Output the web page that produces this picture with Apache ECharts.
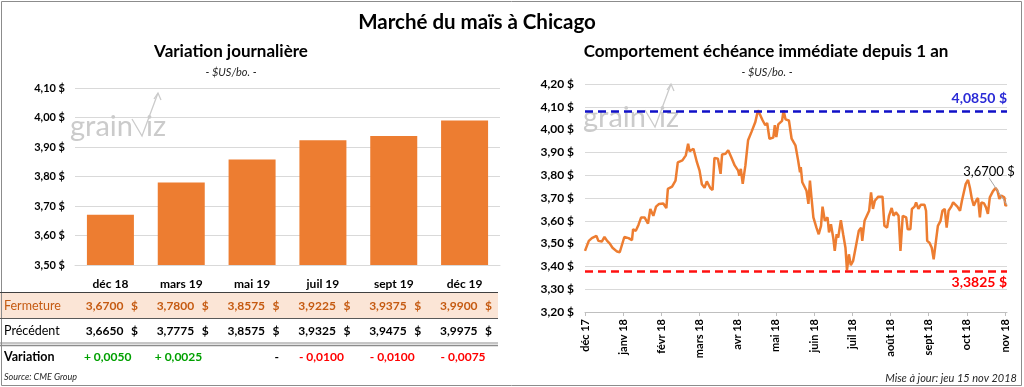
<!DOCTYPE html>
<html><head><meta charset="utf-8">
<script src="https://cdn.jsdelivr.net/npm/echarts@6/dist/echarts.min.js"></script>
<style>html,body{margin:0;padding:0;background:#fff}#c{width:1024px;height:387px}</style>
</head><body><div id="c"></div>
<script>
// ---------- data ----------
const contracts = ['déc 18', 'mars 19', 'mai 19', 'juil 19', 'sept 19', 'déc 19'];
const closePrices = [3.6700, 3.7800, 3.8575, 3.9225, 3.9375, 3.9900];
const previousPrices = [3.6650, 3.7775, 3.8575, 3.9325, 3.9475, 3.9975];
const rowLabels = ['Fermeture', 'Précédent', 'Variation'];

const monthLabels = ['déc 17', 'janv 18', 'févr 18', 'mars 18', 'avr 18', 'mai 18', 'juin 18', 'juil 18', 'août 18', 'sept 18', 'oct 18', 'nov 18'];
// time position of each observation, in months since the start of déc 17
const monthOffset = [
  0.00,0.10,0.18,0.30,0.35,0.44,0.51,0.58,0.65,0.72,
  0.77,0.84,0.91,0.96,1.03,1.14,1.23,1.26,1.33,1.40,
  1.47,1.56,1.65,1.71,1.79,1.86,1.94,2.05,2.13,2.17,
  2.28,2.37,2.43,2.55,2.64,2.70,2.74,2.84,2.93,3.00,
  3.06,3.13,3.19,3.28,3.34,3.39,3.48,3.52,3.55,3.59,
  3.68,3.75,3.83,3.92,4.01,4.04,4.08,4.13,4.20,4.27,
  4.36,4.46,4.53,4.59,4.65,4.72,4.77,4.83,4.88,4.93,
  4.97,5.01,5.06,5.16,5.20,5.25,5.34,5.41,5.51,5.58,
  5.63,5.65,5.69,5.74,5.80,5.85,5.89,5.93,5.98,6.06,
  6.12,6.18,6.22,6.28,6.35,6.39,6.44,6.50,6.54,6.59,
  6.63,6.70,6.76,6.82,6.86,6.91,6.96,7.02,7.07,7.12,
  7.17,7.23,7.26,7.32,7.38,7.44,7.49,7.54,7.59,7.68,
  7.79,7.84,7.91,7.96,8.03,8.08,8.14,8.21,8.26,8.32,
  8.41,8.45,8.52,8.56,8.63,8.67,8.73,8.79,8.89,8.93,
  8.96,9.02,9.08,9.13,9.19,9.24,9.31,9.36,9.42,9.47,
  9.52,9.59,9.64,9.69,9.75,9.82,9.87,9.92,9.97,10.03,
  10.08,10.13,10.18,10.24,10.29,10.34,10.38,10.45,10.50,10.55,
  10.60,10.68,10.75,10.80,10.85,10.90,10.98,11.01,11.05
];
const nearbyPrices = [
  3.468,3.512,3.524,3.534,3.512,3.509,3.529,3.512,3.500,3.482,
  3.488,3.465,3.462,3.470,3.529,3.524,3.515,3.563,3.556,3.582,
  3.615,3.615,3.588,3.652,3.622,3.662,3.674,3.676,3.656,3.740,
  3.750,3.776,3.856,3.865,3.887,3.938,3.905,3.916,3.857,3.820,
  3.760,3.745,3.773,3.744,3.735,3.876,3.872,3.876,3.806,3.891,
  3.894,3.909,3.879,3.843,3.820,3.798,3.828,3.762,3.843,3.953,
  3.990,4.033,4.085,4.063,4.041,4.019,4.029,3.960,3.960,3.965,
  4.019,3.967,4.023,4.038,4.085,4.045,4.040,3.960,3.931,3.865,
  3.813,3.835,3.769,3.776,3.732,3.674,3.776,3.703,3.615,3.570,
  3.541,3.578,3.662,3.600,3.615,3.549,3.585,3.526,3.468,3.541,
  3.526,3.603,3.541,3.482,3.3825,3.453,3.405,3.424,3.468,3.512,
  3.556,3.570,3.512,3.600,3.622,3.644,3.725,3.652,3.688,3.706,
  3.706,3.578,3.570,3.622,3.656,3.622,3.637,3.622,3.468,3.622,
  3.615,3.563,3.563,3.652,3.662,3.681,3.652,3.670,3.670,3.644,
  3.512,3.504,3.482,3.431,3.512,3.578,3.600,3.644,3.652,3.570,
  3.644,3.662,3.681,3.674,3.662,3.644,3.688,3.725,3.762,3.779,
  3.744,3.696,3.666,3.688,3.700,3.615,3.681,3.676,3.659,3.630,
  3.703,3.729,3.744,3.732,3.696,3.710,3.703,3.666,3.670
];
const yearHigh = 4.0850;
const yearLow = 3.3825;
const lastClose = 3.6700;

// ---------- helpers ----------
const FONT = 'Lato, "Open Sans", sans-serif';
const ORANGE = '#ED7D31';
const fmt4 = v => v.toFixed(4).replace('.', ',');
const fmtAxis = v => v.toFixed(2).replace('.', ',') + ' $';

const chart = echarts.init(document.getElementById('c'), null, {renderer: 'canvas'});

const lastIdx = monthOffset.length - 1;
const lineData = monthOffset.map((m, i) => {
  const item = {value: [m, nearbyPrices[i]]};
  if (i === lastIdx) {
    item.label = {
      show: true, position: 'top', fontSize: 13, color: '#000', fontFamily: FONT,
      formatter: () => fmt4(lastClose) + ' $'
    };
    item.labelLine = {show: true, lineStyle: {color: '#a6a6a6', width: 1}};
  }
  return item;
});

chart.setOption({
  animation: false,
  textStyle: {fontFamily: FONT},
  grid: [
    {left: 75, right: 524, top: 88, bottom: 122},
    {left: 585, right: 17, top: 84, bottom: 75}
  ],
  xAxis: [
    {gridIndex: 0, type: 'category', data: contracts,
     axisTick: {show: false},
     axisLine: {lineStyle: {color: '#d9d9d9'}},
     axisLabel: {color: '#000', fontWeight: 'bold', fontSize: 12, margin: 13, fontFamily: FONT}},
    {gridIndex: 1, type: 'value', min: 0, max: 11.05, interval: 1,
     splitLine: {show: false},
     axisLine: {show: true, lineStyle: {color: '#bfbfbf'}},
     axisTick: {show: true, length: 4, lineStyle: {color: '#bfbfbf'}},
     axisLabel: {rotate: 90, fontWeight: 'bold', fontSize: 11, color: '#000', margin: 7, fontFamily: FONT,
       showMaxLabel: false,
       formatter: v => (Math.abs(v - Math.round(v)) < 1e-6 && monthLabels[Math.round(v)]) ? monthLabels[Math.round(v)] : ''}}
  ],
  yAxis: [
    {gridIndex: 0, type: 'value', min: 3.5, max: 4.1, interval: 0.1,
     axisLine: {show: false}, axisTick: {show: false},
     splitLine: {lineStyle: {color: '#d9d9d9'}},
     axisLabel: {formatter: fmtAxis, fontWeight: 'bold', fontSize: 11, color: '#000', margin: 10, fontFamily: FONT}},
    {gridIndex: 1, type: 'value', min: 3.2, max: 4.2, interval: 0.1,
     axisLine: {show: false}, axisTick: {show: false},
     splitLine: {lineStyle: {color: '#d9d9d9'}},
     axisLabel: {formatter: fmtAxis, fontWeight: 'bold', fontSize: 12, color: '#000', margin: 11, fontFamily: FONT}}
  ],
  series: [
    {type: 'bar', xAxisIndex: 0, yAxisIndex: 0, data: closePrices, barWidth: 47,
     itemStyle: {color: ORANGE}},
    {type: 'line', xAxisIndex: 1, yAxisIndex: 1, data: lineData,
     showSymbol: true, showAllSymbol: true, symbol: 'circle', symbolSize: 0.01,
     lineStyle: {color: ORANGE, width: 2.5}, itemStyle: {color: ORANGE},
     labelLayout: function (p) {
       return p.dataIndex === lastIdx ? {dx: -18, dy: -22} : {};
     },
     markLine: {
       silent: true, symbol: 'none',
       data: [
         {yAxis: yearHigh, lineStyle: {color: '#1010c8', type: [8, 5], width: 2.5},
          label: {position: 'insideEndTop', formatter: () => fmt4(yearHigh) + ' $', color: '#2a2ad6',
                  fontWeight: 'bold', fontSize: 14, fontFamily: FONT, distance: [0, 6]}},
         {yAxis: yearLow, lineStyle: {color: '#ff1010', type: [8, 5], width: 2.5},
          label: {position: 'insideEndBottom', formatter: () => fmt4(yearLow) + ' $', color: '#ff0000',
                  fontWeight: 'bold', fontSize: 14, fontFamily: FONT, distance: [0, 5]}}
       ]
     }}
  ]
});

// ---------- texts, table and decoration ----------
function txt(x, y, s, o) {
  return {type: 'text', x: x, y: y, silent: true,
    style: Object.assign({text: s, fontFamily: FONT, fontSize: 12, fill: '#000',
      textAlign: 'left', textVerticalAlign: 'middle'}, o || {})};
}
function hline(x1, x2, y, color, w) {
  return {type: 'line', silent: true, shape: {x1: x1, y1: y, x2: x2, y2: y}, style: {stroke: color, lineWidth: w || 1}};
}
function watermark(x0, base) {
  const c = '#cbcbcb';
  return [
    txt(x0, base, 'grain', {fontSize: 29, fill: c, textVerticalAlign: 'bottom'}),
    {type: 'polyline', silent: true, shape: {points: [[x0 + 62, base - 22], [x0 + 72, base - 5], [x0 + 88, base - 48]]},
     style: {stroke: c, lineWidth: 1.3, fill: null}},
    {type: 'polyline', silent: true, shape: {points: [[x0 + 84, base - 42], [x0 + 88, base - 48], [x0 + 91, base - 41]]},
     style: {stroke: c, lineWidth: 1.3, fill: null}},
    txt(x0 + 76, base, 'iz', {fontSize: 29, fill: c, textVerticalAlign: 'bottom'})
  ];
}

const g = [];
g.push({type: 'rect', silent: true, shape: {x: 1.5, y: 1.5, width: 1020, height: 384},
        style: {fill: null, stroke: '#8c8c8c', lineWidth: 1}});
g.push(...watermark(70, 141));
g.push(...watermark(583, 132));
g.push(txt(477, 22, 'Marché du maïs à Chicago', {fontSize: 20.5, fontWeight: 'bold', textAlign: 'center'}));
g.push(txt(231, 52, 'Variation journalière', {fontSize: 17, fontWeight: 'bold', textAlign: 'center'}));
g.push(txt(231, 72, '- $US/bo. -', {fontSize: 11, fontStyle: 'italic', textAlign: 'center', fill: '#262626'}));
g.push(txt(766, 52, 'Comportement échéance immédiate depuis 1 an', {fontSize: 17, fontWeight: 'bold', textAlign: 'center'}));
g.push(txt(767, 72, '- $US/bo. -', {fontSize: 11, fontStyle: 'italic', textAlign: 'center', fill: '#262626'}));

// table
g.push({type: 'rect', silent: true, shape: {x: 0, y: 292, width: 498, height: 26}, style: {fill: '#fbe5d6'}, z: -1});
g.push(hline(0, 498, 292.5, '#404040', 1));
g.push(hline(0, 498, 318.5, '#595959', 1));
g.push(hline(0, 498, 343, '#8c8c8c', 1));
g.push(hline(0, 498, 345.5, '#8c8c8c', 1.5));
g.push(txt(4, 306, rowLabels[0], {fontSize: 12.5, fill: '#c55a11'}));
g.push(txt(4, 331, rowLabels[1], {fontSize: 12.5, fill: '#000'}));
g.push(txt(4, 357, rowLabels[2], {fontSize: 12.5, fontWeight: 'bold'}));

contracts.forEach((c, i) => {
  const cx = chart.convertToPixel({xAxisIndex: 0}, i);
  g.push(txt(cx + 13, 306, fmt4(closePrices[i]), {fontWeight: 'bold', fill: '#c55a11', textAlign: 'right'}));
  g.push(txt(cx + 24, 306, '$', {fontWeight: 'bold', fill: '#c55a11', textAlign: 'center'}));
  g.push(txt(cx + 13, 331, fmt4(previousPrices[i]), {fontWeight: 'bold', textAlign: 'right'}));
  g.push(txt(cx + 24, 331, '$', {fontWeight: 'bold', textAlign: 'center'}));
  const d = Math.round((closePrices[i] - previousPrices[i]) * 10000) / 10000;
  if (d === 0) {
    g.push(txt(cx + 27, 357, '-', {fontWeight: 'bold', textAlign: 'right'}));
  } else {
    g.push(txt(cx + 21, 357, (d > 0 ? '+ ' : '- ') + fmt4(Math.abs(d)),
      {fontWeight: 'bold', textAlign: 'right', fill: d > 0 ? '#00a000' : '#ff0000'}));
  }
});

g.push(txt(4, 377, 'Source: CME Group', {fontSize: 9, fontStyle: 'italic', fill: '#262626'}));
g.push(txt(1017, 378, 'Mise à jour: jeu 15 nov 2018', {fontSize: 11, fontStyle: 'italic', textAlign: 'right', fill: '#262626'}));

chart.setOption({graphic: {elements: g}});
</script>
</body></html>
